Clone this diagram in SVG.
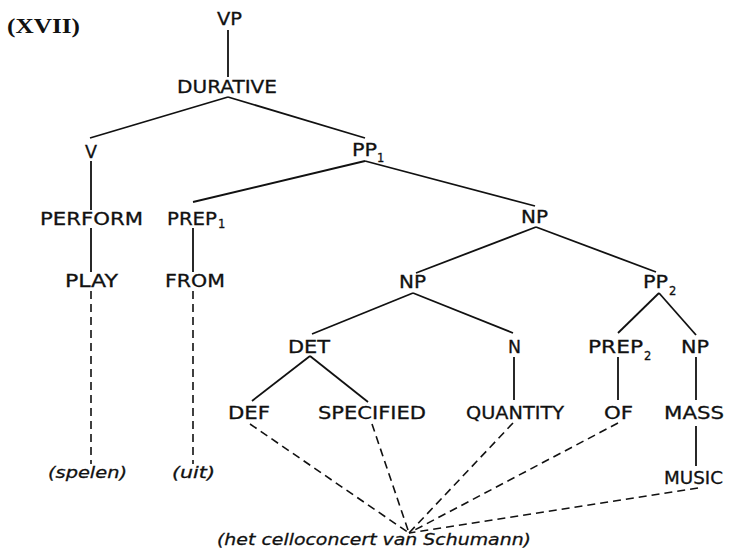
<svg xmlns="http://www.w3.org/2000/svg" width="732" height="552" viewBox="0 0 732 552">
<style>
.t{font-family:"DejaVu Sans","Liberation Sans",sans-serif;font-size:17px;fill:#111;stroke:#111;stroke-width:0.3;text-anchor:middle}
.s{font-family:"DejaVu Sans","Liberation Sans",sans-serif;font-size:11.5px;fill:#111;stroke:#111;stroke-width:0.3}
.i{font-family:"DejaVu Sans","Liberation Sans",sans-serif;font-size:16.5px;font-style:italic;fill:#111;stroke:#111;stroke-width:0.3;text-anchor:middle}
.ttl{font-family:"Liberation Serif","Times New Roman",serif;font-size:22px;font-weight:bold;fill:#111}
.e{stroke:#111;stroke-width:1.8;fill:none}
.d{stroke:#111;stroke-width:1.6;fill:none;stroke-dasharray:8 5}
</style>
<rect width="732" height="552" fill="#fff"/>
<text class="ttl" x="7" y="33" textLength="73" lengthAdjust="spacingAndGlyphs">(XVII)</text>
<g id="connectors">
<line class="e" x1="228" y1="30" x2="228" y2="77"/>
<line class="e" x1="228" y1="97" x2="90" y2="138"/>
<line class="e" x1="228" y1="97" x2="365" y2="138"/>
<line class="e" x1="91" y1="161" x2="91" y2="210"/>
<line class="e" x1="365" y1="161" x2="193" y2="202"/>
<line class="e" x1="365" y1="161" x2="535" y2="206"/>
<line class="e" x1="91" y1="228" x2="91" y2="272"/>
<line class="e" x1="193" y1="228" x2="193" y2="272"/>
<line class="e" x1="536" y1="227" x2="416" y2="273"/>
<line class="e" x1="536" y1="227" x2="656" y2="272"/>
<line class="e" x1="413" y1="293" x2="312" y2="334"/>
<line class="e" x1="413" y1="293" x2="513" y2="333"/>
<line class="e" x1="659" y1="293" x2="618" y2="333"/>
<line class="e" x1="659" y1="293" x2="696" y2="335"/>
<line class="e" x1="310" y1="356" x2="252" y2="401"/>
<line class="e" x1="310" y1="356" x2="368" y2="402"/>
<line class="e" x1="514" y1="357" x2="514" y2="400"/>
<line class="e" x1="618" y1="357" x2="618" y2="400"/>
<line class="e" x1="696" y1="357" x2="696" y2="400"/>
<line class="e" x1="696" y1="426" x2="696" y2="466"/>
<line class="d" x1="91" y1="291" x2="91" y2="464"/>
<line class="d" x1="193" y1="291" x2="193" y2="464"/>
<line class="d" x1="250" y1="424" x2="409" y2="533"/>
<line class="d" x1="372" y1="424" x2="409" y2="533"/>
<line class="d" x1="513" y1="423" x2="409" y2="533"/>
<line class="d" x1="618" y1="423" x2="409" y2="533"/>
<line class="d" x1="698" y1="488" x2="409" y2="533"/>
</g>
<g id="n-vp"><text class="t" x="229.5" y="25" textLength="25" lengthAdjust="spacingAndGlyphs">VP</text></g>
<g id="n-durative"><text class="t" x="227" y="93" textLength="100" lengthAdjust="spacingAndGlyphs">DURATIVE</text></g>
<g id="n-v"><text class="t" x="91" y="158" textLength="12" lengthAdjust="spacingAndGlyphs">V</text></g>
<g id="n-pp1"><text class="t" x="364.5" y="156" textLength="25" lengthAdjust="spacingAndGlyphs">PP</text><text class="s" x="377" y="162">1</text></g>
<g id="n-perform"><text class="t" x="91.5" y="225" textLength="103" lengthAdjust="spacingAndGlyphs">PERFORM</text></g>
<g id="n-prep1"><text class="t" x="192" y="225" textLength="50" lengthAdjust="spacingAndGlyphs">PREP</text><text class="s" x="218" y="228">1</text></g>
<g id="n-np1"><text class="t" x="534.5" y="223" textLength="27" lengthAdjust="spacingAndGlyphs">NP</text></g>
<g id="n-play"><text class="t" x="91.5" y="287" textLength="53" lengthAdjust="spacingAndGlyphs">PLAY</text></g>
<g id="n-from"><text class="t" x="195" y="287" textLength="60" lengthAdjust="spacingAndGlyphs">FROM</text></g>
<g id="n-np2"><text class="t" x="412.5" y="288" textLength="27" lengthAdjust="spacingAndGlyphs">NP</text></g>
<g id="n-pp2"><text class="t" x="655.5" y="288" textLength="25" lengthAdjust="spacingAndGlyphs">PP</text><text class="s" x="669" y="295">2</text></g>
<g id="n-det"><text class="t" x="309" y="353" textLength="42" lengthAdjust="spacingAndGlyphs">DET</text></g>
<g id="n-n"><text class="t" x="514.5" y="353" textLength="13" lengthAdjust="spacingAndGlyphs">N</text></g>
<g id="n-prep2"><text class="t" x="615.5" y="353" textLength="55" lengthAdjust="spacingAndGlyphs">PREP</text><text class="s" x="644" y="360">2</text></g>
<g id="n-np3"><text class="t" x="695" y="353" textLength="28" lengthAdjust="spacingAndGlyphs">NP</text></g>
<g id="n-def"><text class="t" x="249" y="419" textLength="42" lengthAdjust="spacingAndGlyphs">DEF</text></g>
<g id="n-specified"><text class="t" x="372" y="419" textLength="108" lengthAdjust="spacingAndGlyphs">SPECIFIED</text></g>
<g id="n-quantity"><text class="t" x="515" y="419" textLength="98" lengthAdjust="spacingAndGlyphs">QUANTITY</text></g>
<g id="n-of"><text class="t" x="618.5" y="419" textLength="29" lengthAdjust="spacingAndGlyphs">OF</text></g>
<g id="n-mass"><text class="t" x="694" y="419" textLength="60" lengthAdjust="spacingAndGlyphs">MASS</text></g>
<g id="n-music"><text class="t" x="693.5" y="484" textLength="59" lengthAdjust="spacingAndGlyphs">MUSIC</text></g>
<g id="n-spelen"><text class="i" x="87.5" y="478" textLength="79" lengthAdjust="spacingAndGlyphs">(spelen)</text></g>
<g id="n-uit"><text class="i" x="193.5" y="478" textLength="43" lengthAdjust="spacingAndGlyphs">(uit)</text></g>
<g id="n-het"><text class="i" x="374" y="545" textLength="314" lengthAdjust="spacingAndGlyphs">(het celloconcert van Schumann)</text></g>
</svg>
